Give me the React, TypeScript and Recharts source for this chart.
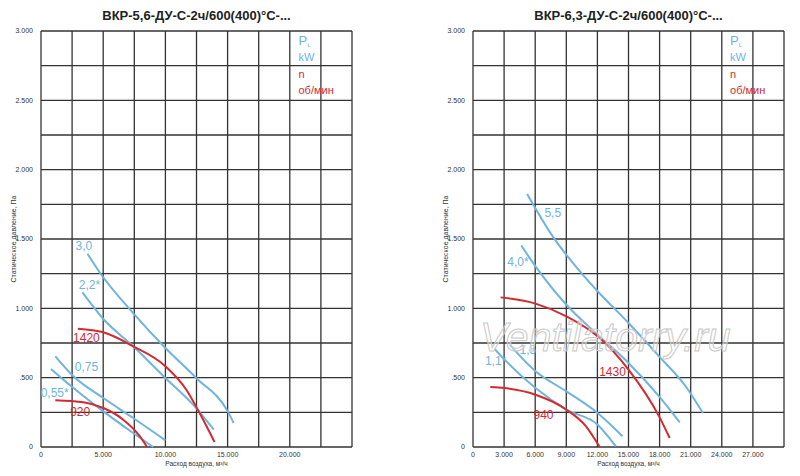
import React from 'react';
import { LineChart, Line, XAxis, YAxis, CartesianGrid, ReferenceDot } from 'recharts';

type Pt = { x: number; y: number };

// left chart: ВКР-5,6
const leftP30: Pt[] = [
  { x: 3730, y: 1394 }, { x: 4750, y: 1255 }, { x: 7410, y: 966 }, { x: 10000, y: 714 },
  { x: 12480, y: 498 }, { x: 15010, y: 257 }, { x: 15490, y: 173 },
];
const leftP22: Pt[] = [
  { x: 3330, y: 1115 }, { x: 5010, y: 923 }, { x: 7410, y: 726 }, { x: 10000, y: 498 },
  { x: 12480, y: 281 }, { x: 13890, y: 125 },
];
const leftP075: Pt[] = [
  { x: 1150, y: 654 }, { x: 2610, y: 510 }, { x: 5010, y: 353 }, { x: 7410, y: 209 }, { x: 10000, y: 48 },
];
const leftP055: Pt[] = [
  { x: 800, y: 563 }, { x: 2610, y: 425 }, { x: 5010, y: 257 }, { x: 7410, y: 101 }, { x: 9010, y: 0 },
];
const leftN1420: Pt[] = [
  { x: 2960, y: 853 }, { x: 5010, y: 827 }, { x: 7410, y: 726 }, { x: 10000, y: 582 },
  { x: 11680, y: 413 }, { x: 12750, y: 245 }, { x: 13950, y: 36 },
];
const leftN920: Pt[] = [
  { x: 1150, y: 337 }, { x: 3410, y: 322 }, { x: 5010, y: 281 }, { x: 6610, y: 197 },
  { x: 7950, y: 77 }, { x: 8530, y: 0 },
];

// right chart: ВКР-6,3
const rightP55: Pt[] = [
  { x: 5220, y: 1825 }, { x: 7690, y: 1519 }, { x: 10580, y: 1243 }, { x: 12020, y: 1123 },
  { x: 15000, y: 894 }, { x: 17950, y: 654 }, { x: 20510, y: 438 }, { x: 22180, y: 245 },
];
const rightP40: Pt[] = [
  { x: 4650, y: 1454 }, { x: 6030, y: 1303 }, { x: 9010, y: 1026 }, { x: 12020, y: 810 },
  { x: 15000, y: 606 }, { x: 17950, y: 365 }, { x: 19940, y: 178 },
];
const rightP15: Pt[] = [
  { x: 3530, y: 738 }, { x: 6030, y: 546 }, { x: 9010, y: 401 }, { x: 12020, y: 245 }, { x: 14420, y: 77 },
];
const rightP11: Pt[] = [
  { x: 2080, y: 707 }, { x: 3050, y: 630 }, { x: 6030, y: 425 }, { x: 9010, y: 269 },
  { x: 12020, y: 161 }, { x: 13780, y: 5 },
];
const rightN1430: Pt[] = [
  { x: 2660, y: 1079 }, { x: 6030, y: 1034 }, { x: 9010, y: 942 }, { x: 12020, y: 798 },
  { x: 15000, y: 558 }, { x: 17950, y: 221 }, { x: 18970, y: 65 },
];
const rightN940: Pt[] = [
  { x: 1670, y: 433 }, { x: 3050, y: 425 }, { x: 6030, y: 377 }, { x: 9010, y: 269 },
  { x: 10900, y: 149 }, { x: 12180, y: 5 },
];

const yTicks = [0, 250, 500, 750, 1000, 1250, 1500, 1750, 2000, 2250, 2500, 2750, 3000];
const leftXTicks = [0, 2500, 5000, 7500, 10000, 12500, 15000, 17500, 20000, 22500, 25000];
const rightXTicks = [0, 3000, 6000, 9000, 12000, 15000, 18000, 21000, 24000, 27000, 30000];

const BLUE = '#6fb4de';
const RED = '#d42a2f';

type Lbl = { x: number; y: number; text: string; color: string; anchor?: string; size?: number; sub?: string };
const leftLabels: Lbl[] = [
  { x: 3450, y: 1445, text: '3,0', color: BLUE },
  { x: 3900, y: 1165, text: '2,2*', color: BLUE },
  { x: 3650, y: 780, text: '1420', color: RED },
  { x: 3650, y: 570, text: '0,75', color: BLUE },
  { x: 1100, y: 385, text: '0,55*', color: BLUE },
  { x: 3150, y: 250, text: '920', color: RED },
];
const rightLabels: Lbl[] = [
  { x: 7690, y: 1680, text: '5,5', color: BLUE },
  { x: 4330, y: 1330, text: '4,0*', color: BLUE },
  { x: 13460, y: 538, text: '1430', color: RED },
  { x: 5290, y: 690, text: '1,5', color: BLUE },
  { x: 2180, y: 611, text: '1,1*', color: BLUE },
  { x: 6800, y: 228, text: '940', color: RED },
];

const fmt = (v: number) => {
  if (v === 0) return '0';
  const s = String(v);
  return s.slice(0, s.length - 3) + '.' + s.slice(s.length - 3);
};

const labelContent = (l: Lbl) => (props: any) => {
  const vb = props.viewBox || {};
  return (
    <text x={vb.x} y={vb.y} fill={l.color} fontSize={l.size ?? 12} textAnchor={l.anchor ?? 'middle'}
      dominantBaseline="middle" fontFamily="Liberation Sans, Arial">
      {l.text}
      {l.sub && <tspan fontSize={6} dy={4}>{l.sub}</tspan>}
    </text>
  );
};

interface PanelProps {
  left: number;
  title: string;
  xMax: number;
  xTicks: number[];
  xLabelEvery: number;
  blue: Pt[][];
  red: Pt[][];
  labels: Lbl[];
  legendX: number;
}

function Panel({ left, title, xMax, xTicks, xLabelEvery, blue, red, labels, legendX }: PanelProps) {
  const legend: Lbl[] = [
    { x: legendX, y: 2925, text: 'P', color: BLUE, anchor: 'start', size: 13, sub: 'L' },
    { x: legendX, y: 2808, text: 'kW', color: BLUE, anchor: 'start', size: 11 },
    { x: legendX, y: 2680, text: 'n', color: RED, anchor: 'start', size: 11 },
    { x: legendX, y: 2570, text: 'об/мин', color: RED, anchor: 'start', size: 11 },
  ];
  const xFmt = (v: number) => (v % xLabelEvery === 0 && v !== xMax ? fmt(v) : '');
  const yFmt = (v: number) => (v % 500 === 0 ? fmt(v) : '');
  return (
    <div style={{ position: 'absolute', left, top: 0, width: 400, height: 476 }}>
      <LineChart width={400} height={476} margin={{ top: 31, right: 48, bottom: 0, left: 0 }}>
        <CartesianGrid stroke="#333" strokeWidth={1.3} />
        <XAxis type="number" dataKey="x" domain={[0, xMax]} ticks={xTicks} tickFormatter={xFmt}
          axisLine={false} tickLine={false} height={29} interval={0}
          tick={{ fontSize: 7, fill: '#333', fontFamily: 'Liberation Sans, Arial', dy: -3 }} />
        <YAxis type="number" domain={[0, 3000]} ticks={yTicks} tickFormatter={yFmt}
          axisLine={false} tickLine={false} width={41} interval={0}
          tick={{ fontSize: 7, fill: '#333', fontFamily: 'Liberation Sans, Arial' }} />
        {blue.map((d, i) => (
          <Line key={'b' + i} data={d} dataKey="y" type="monotone" stroke={BLUE} strokeWidth={2}
            dot={false} isAnimationActive={false} />
        ))}
        {red.map((d, i) => (
          <Line key={'r' + i} data={d} dataKey="y" type="monotone" stroke={RED} strokeWidth={2}
            dot={false} isAnimationActive={false} />
        ))}
        {[...labels, ...legend].map((l, i) => (
          <ReferenceDot key={'l' + i} x={l.x} y={l.y} r={0} fill="none" stroke="none"
            label={labelContent(l)} />
        ))}
      </LineChart>
      <div style={{ position: 'absolute', left: 41, width: 311, top: 8, textAlign: 'center',
        fontFamily: 'Liberation Sans, Arial', fontWeight: 'bold', fontSize: 13, color: '#222' }}>
        {title}
      </div>
      <div style={{ position: 'absolute', left: 41, width: 311, top: 460, textAlign: 'center',
        fontFamily: 'Liberation Sans, Arial', fontSize: 6.5, color: '#333' }}>
        Расход воздуха, м³/ч
      </div>
      <div style={{ position: 'absolute', left: 13, top: 239, width: 0, height: 0 }}>
        <div style={{ transform: 'translate(-50%, -50%) rotate(-90deg)', whiteSpace: 'nowrap',
          fontFamily: 'Liberation Sans, Arial', fontSize: 7, color: '#333', position: 'absolute' }}>
          Статическое давление, Па
        </div>
      </div>
    </div>
  );
}

export default function App() {
  return (
    <div style={{ position: 'absolute', left: 0, top: 0, width: 800, height: 476, background: '#fff', overflow: 'hidden' }}>
      <Panel left={0} title="ВКР-5,6-ДУ-С-2ч/600(400)°С-..." xMax={25000} xTicks={leftXTicks}
        xLabelEvery={5000} blue={[leftP30, leftP22, leftP075, leftP055]} red={[leftN1420, leftN920]}
        labels={leftLabels} legendX={20700} />
      <Panel left={432} title="ВКР-6,3-ДУ-С-2ч/600(400)°С-..." xMax={30000} xTicks={rightXTicks}
        xLabelEvery={3000} blue={[rightP55, rightP40, rightP15, rightP11]} red={[rightN1430, rightN940]}
        labels={rightLabels} legendX={24800} />
      <div style={{ position: 'absolute', left: 480, top: 314, fontFamily: 'Liberation Sans, Arial',
        fontStyle: 'italic', fontSize: 41, color: 'rgba(255,255,255,0.4)',
        WebkitTextStroke: '1px #c8c8c8', whiteSpace: 'nowrap' }}>
        Ventilatorry.ru
      </div>
    </div>
  );
}
